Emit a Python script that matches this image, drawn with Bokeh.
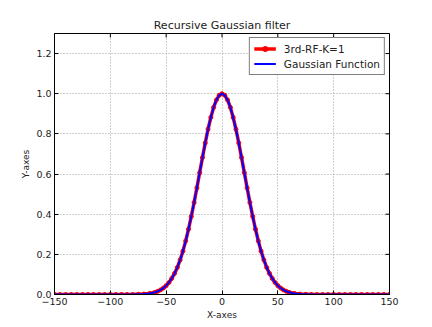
import math
from bokeh.plotting import figure
from bokeh.models import FixedTicker, Legend, LegendItem, Range1d
from bokeh.embed import file_html
from bokeh.resources import INLINE

# data
x_vals = [-150, -145, -140, -135, -130, -125, -120, -115, -110, -105, -100, -95, -90, -85, -80, -75, -70, -65,
          -60, -57.5, -55, -52.5, -50, -47.5, -45, -42.5, -40, -37.5, -35, -32.5, -30, -27.5, -25, -22.5,
          -20, -17.5, -15, -12.5, -10, -7.5, -5, -2.5, 0, 2.5, 5, 7.5, 10, 12.5, 15, 17.5, 20, 22.5, 25,
          27.5, 30, 32.5, 35, 37.5, 40, 42.5, 45, 47.5, 50, 52.5, 55, 57.5, 60,
          65, 70, 75, 80, 85, 90, 95, 100, 105, 110, 115, 120, 125, 130, 135, 140, 145, 150]
gauss_y = [0.0, 0.0, 0.0, 0.0, 0.0, 0.0, 0.0, 0.0, 0.0, 0.0, 0.0, 0.0, 0.0, 0.0, 0.0, 0.001, 0.002, 0.005,
           0.011, 0.016, 0.023, 0.032, 0.044, 0.060, 0.080, 0.105, 0.135, 0.172, 0.216, 0.267, 0.325, 0.389, 0.458, 0.531,
           0.607, 0.682, 0.755, 0.823, 0.882, 0.932, 0.969, 0.992, 1.000, 0.992, 0.969, 0.932, 0.882, 0.823, 0.755, 0.682, 0.607, 0.531, 0.458,
           0.389, 0.325, 0.267, 0.216, 0.172, 0.135, 0.105, 0.080, 0.060, 0.044, 0.032, 0.023, 0.016, 0.011,
           0.005, 0.002, 0.001, 0.0, 0.0, 0.0, 0.0, 0.0, 0.0, 0.0, 0.0, 0.0, 0.0, 0.0, 0.0, 0.0, 0.0, 0.0]
rf_y = [0.0, 0.0, 0.0, 0.0, 0.0, 0.0, 0.0, 0.0, 0.0, 0.0, 0.0, 0.0, 0.0, 0.0, 0.0, 0.001, 0.002, 0.005,
        0.011, 0.016, 0.023, 0.032, 0.044, 0.060, 0.080, 0.105, 0.135, 0.172, 0.216, 0.267, 0.325, 0.389, 0.458, 0.531,
        0.607, 0.682, 0.755, 0.823, 0.882, 0.932, 0.969, 0.992, 1.000, 0.992, 0.969, 0.932, 0.882, 0.823, 0.755, 0.682, 0.607, 0.531, 0.458,
        0.389, 0.325, 0.267, 0.216, 0.172, 0.135, 0.105, 0.080, 0.060, 0.044, 0.032, 0.023, 0.016, 0.011,
        0.005, 0.002, 0.001, 0.0, 0.0, 0.0, 0.0, 0.0, 0.0, 0.0, 0.0, 0.0, 0.0, 0.0, 0.0, 0.0, 0.0, 0.0]
x_ticks = [-150, -100, -50, 0, 50, 100, 150]
y_ticks = [0.0, 0.2, 0.4, 0.6, 0.8, 1.0, 1.2]
x_lim = [-150, 150]
y_lim = [0.0, 1.3]
title_text = "Recursive Gaussian filter"
x_label = "X-axes"
y_label = "Y-axes"
series_names = ["3rd-RF-K=1", "Gaussian Function"]

FONT = "DejaVu Sans"
TXT = "#222222"

p = figure(width=432, height=327, output_backend="svg", toolbar_location=None,
           x_range=Range1d(*x_lim), y_range=Range1d(*y_lim),
           min_border_left=54, min_border_right=43, min_border_top=33, min_border_bottom=33,
           x_axis_label=x_label, y_axis_label=y_label)
p.background_fill_color = "white"
p.border_fill_color = "white"
p.outline_line_color = "black"
p.outline_line_width = 1

p.title.text = title_text
p.title.align = "center"
p.title.text_font = FONT
p.title.text_font_size = "11px"
p.title.text_font_style = "normal"
p.title.text_color = TXT
p.title.standoff = 4

for ax in p.xaxis + p.yaxis:
    ax.major_label_text_font = FONT
    ax.major_label_text_font_size = "9.5px"
    ax.major_label_text_color = TXT
    ax.axis_label_text_font = FONT
    ax.axis_label_text_font_size = "9px"
    ax.axis_label_text_font_style = "normal"
    ax.axis_label_text_color = TXT
    ax.major_tick_in = 4
    ax.major_tick_out = 0
    ax.minor_tick_line_color = None
    ax.axis_line_color = "black"
    ax.major_label_standoff = 3
    ax.axis_label_standoff = 2

p.xaxis.ticker = FixedTicker(ticks=x_ticks)
p.yaxis.ticker = FixedTicker(ticks=y_ticks)
p.yaxis.major_label_overrides = {t: f"{t:.1f}" for t in y_ticks}

p.xgrid.ticker = FixedTicker(ticks=x_ticks)
p.ygrid.ticker = FixedTicker(ticks=y_ticks)
for g in (p.xgrid, p.ygrid):
    g.grid_line_color = "#a0a0a0"
    g.grid_line_dash = "1 2"
    g.grid_line_width = 1

# inward ticks on the top and right frame edges (half of each dash is clipped by the frame)
p.scatter(x_ticks, [y_lim[1]] * len(x_ticks), marker="dash", size=8, angle=math.pi / 2,
          line_color="black", line_width=1)
p.scatter([x_lim[1]] * len(y_ticks), y_ticks, marker="dash", size=8, angle=0,
          line_color="black", line_width=1)

r_line = p.line(x_vals, rf_y, line_color="red", line_width=3.5)
r_pts = p.scatter(x_vals, rf_y, marker="circle", size=4, fill_color="red", line_color="red")
b_line = p.line(x_vals, gauss_y, line_color="blue", line_width=2)

legend = Legend(items=[LegendItem(label=series_names[0], renderers=[r_line, r_pts]),
                       LegendItem(label=series_names[1], renderers=[b_line])],
                location="top_right")
legend.label_text_font = FONT
legend.label_text_font_size = "10.5px"
legend.label_text_color = TXT
legend.border_line_color = "black"
legend.border_line_width = 1
legend.background_fill_color = "white"
legend.background_fill_alpha = 1
legend.glyph_width = 22
legend.glyph_height = 13
legend.label_height = 13
legend.spacing = 2
legend.padding = 4
legend.margin = 4
legend.label_standoff = 8
p.add_layout(legend, "center")

open("out.html", "w").write(file_html(p, INLINE))
